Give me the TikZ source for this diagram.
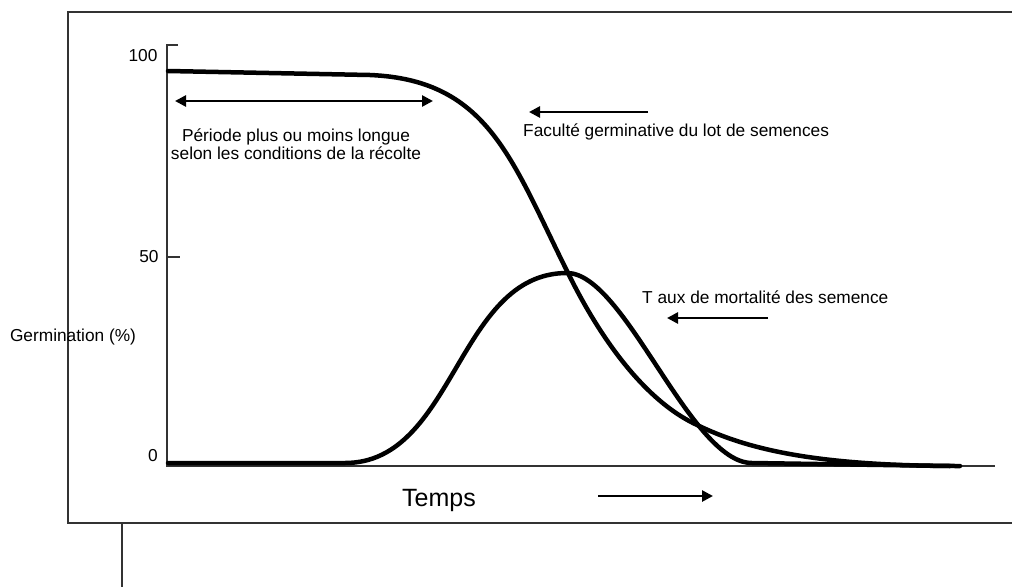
\documentclass[tikz,border=0pt]{standalone}
\usepackage{fontspec}
\setmainfont{Liberation Sans}
\usetikzlibrary{arrows.meta}
\begin{document}
\begin{tikzpicture}[x=1pt,y=-1pt,
  frame/.style={line width=1.6pt,draw=black!80},
  axisline/.style={line width=1.8pt,draw=black!80},
  curve/.style={line width=4.5pt,line cap=round,line join=round},
  pointer/.style={line width=2.6pt,-{Triangle[length=11pt,width=11pt]}},
  lbl/.style={font=\fontsize{17.3}{18.5}\selectfont,inner sep=0pt},
  bigl/.style={font=\fontsize{25}{28}\selectfont,inner sep=0pt}]
\useasboundingbox (0,0) rectangle (1012,587);
% outer frame
\draw[frame] (1012,12) -- (68,12) -- (68,523) -- (1012,523);
\draw[frame] (122,523) -- (122,587);
% axes
\coordinate (ytop) at (167,45);
\coordinate (orig) at (167,466);
\coordinate (xend) at (995,466);
\draw[axisline] (178,45) -- (ytop) -- (orig) -- (xend);
\draw[axisline] (167,257) -- (180,257);
% tick labels
\node[lbl] (l100) at (143,56) {100};
\node[lbl] (l50) at (149,257) {50};
\node[lbl] (l0) at (153,456) {0};
\node[lbl] (ylab) at (73,337) {Germination (\%)};
\node[bigl] (temps) at (439,500) {Temps};
% viability curve
\coordinate (v0) at (168,71);
\coordinate (v1) at (370,75);
\coordinate (v2) at (570,277);
\coordinate (v3) at (693,423);
\coordinate (v4) at (960,466);
\draw[curve] (v0) -- (v1) .. controls (490,80) and (512,162) .. (v2)
  .. controls (605,347) and (648,400.5) .. (v3)
  .. controls (743,448) and (810,466) .. (v4);
% mortality curve
\coordinate (b0) at (168,463);
\coordinate (b1) at (345,463);
\coordinate (b2) at (567,273);
\coordinate (b3) at (752,463);
\coordinate (b4) at (950,466);
\draw[curve] (b0) -- (b1) .. controls (455,463) and (457,273) .. (b2)
  .. controls (625,273) and (690,463) .. (b3) -- (b4);
% texts
\node[lbl,align=center] (periode) at (296,144) {Période plus ou moins longue\\selon les conditions de la récolte};
\node[lbl,anchor=west] (fac) at (523,132) {Faculté germinative du lot de semences};
\node[lbl,anchor=west] (taux) at (642,297) {T aux de mortalité des semence};
% arrows
\coordinate (pA) at (175,101);
\coordinate (pB) at (433,101);
\draw[pointer,{Triangle[length=11pt,width=11pt]}-{Triangle[length=11pt,width=11pt]}] (pA) -- (pB);
\coordinate (fA) at (648,112);
\coordinate (fB) at (529,112);
\draw[pointer] (fA) -- (fB);
\coordinate (tA) at (768,318);
\coordinate (tB) at (667,318);
\draw[pointer] (tA) -- (tB);
\coordinate (mA) at (598,496);
\coordinate (mB) at (713,496);
\draw[pointer] (mA) -- (mB);
\end{tikzpicture}
\end{document}
